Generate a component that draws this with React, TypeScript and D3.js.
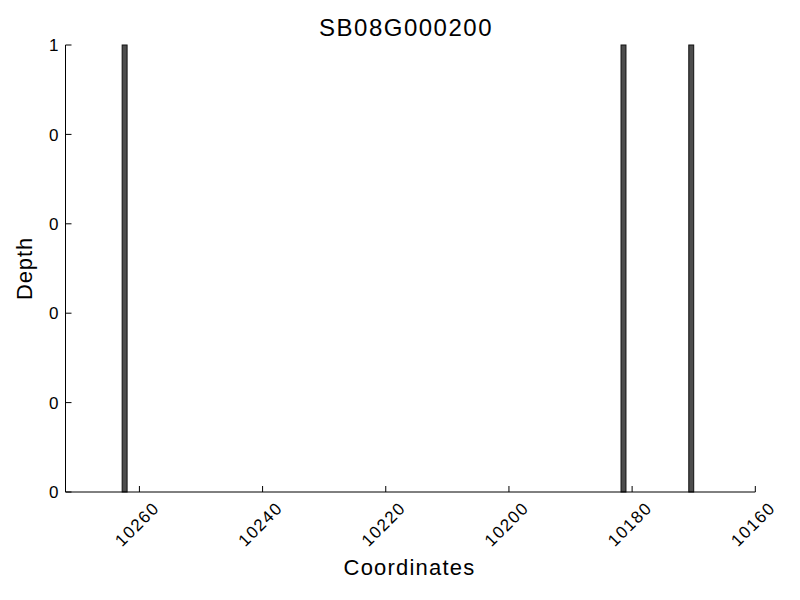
import React from "react";
import * as d3 from "d3";

const title = "SB08G000200";
const xLabel = "Coordinates";
const yLabel = "Depth";
const positions = [10262, 10181, 10170];
const depths = [1, 1, 1];
const xTicks = [10260, 10240, 10220, 10200, 10180, 10160];
const yTicks = [0, 0.2, 0.4, 0.6, 0.8, 1];
const barWidth = 0.8;

const W = 800, H = 600;
const left = 65.5, right = 755.3, top = 45, bottom = 492;
const font = "'Liberation Sans', Arial, sans-serif";

export default function App() {
  const x = d3.scaleLinear().domain([10272, 10160]).range([left, right]);
  const y = d3.scaleLinear().domain([0, 1]).range([bottom, top]);
  const fmt = (v: number) => String(Math.trunc(v + 1e-9));
  return (
    <svg width={W} height={H} style={{ display: "block", position: "absolute", left: 0, top: 0 }}>
      <rect x={0} y={0} width={W} height={H} fill="#fff" />
      {positions.map((p, i) => {
        const x0 = x(p), x1 = x(p + barWidth);
        return (
          <rect key={i} x={Math.min(x0, x1)} y={y(depths[i])} width={Math.abs(x1 - x0)}
            height={y(0) - y(depths[i])} fill="#4d4d4d" stroke="#111" strokeWidth={1} />
        );
      })}
      <line x1={left} x2={left} y1={top} y2={bottom} stroke="#000" strokeWidth={1} />
      <line x1={left} x2={right} y1={bottom} y2={bottom} stroke="#000" strokeWidth={1} />
      {yTicks.map((t, i) => (
        <g key={i}>
          <line x1={left} x2={left + 6} y1={y(t)} y2={y(t)} stroke="#000" />
          <text x={left - 7} y={y(t)} dy="0.36em" textAnchor="end" fontFamily={font} fontSize={17}>{fmt(t)}</text>
        </g>
      ))}
      {xTicks.map((t, i) => (
        <g key={i}>
          <line x1={x(t)} x2={x(t)} y1={bottom} y2={bottom - 6} stroke="#000" />
          <text transform={`translate(${x(t) - 2.5},${524}) rotate(-45)`} textAnchor="middle" dy="0.36em"
            fontFamily={font} fontSize={17} letterSpacing={1.4}>{t}</text>
        </g>
      ))}
      <text x={406} y={36} textAnchor="middle" fontFamily={font} fontSize={24} letterSpacing={1.5}>{title}</text>
      <text x={409.5} y={575} textAnchor="middle" fontFamily={font} fontSize={22} letterSpacing={1.2}>{xLabel}</text>
      <text transform={`translate(32,268.5) rotate(-90)`} textAnchor="middle" fontFamily={font} fontSize={22} letterSpacing={0.9}>{yLabel}</text>
    </svg>
  );
}
